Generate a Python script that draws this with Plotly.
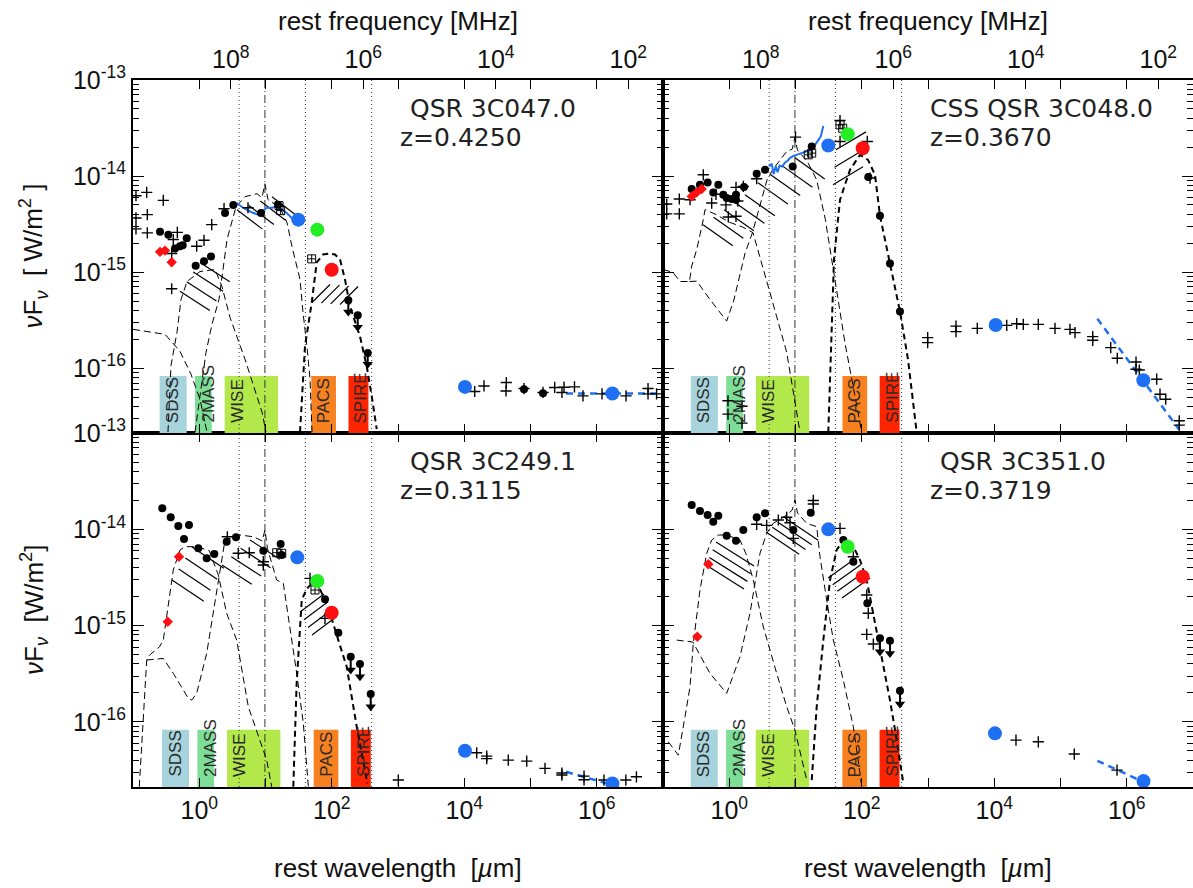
import numpy as np
import plotly.graph_objects as go

# ------------------------------------------------------------------
# Meta data
# ------------------------------------------------------------------
C_UM_MHZ = 2.99792458e8          # lambda[um] * nu[MHz]
LOG_X_RANGE = [-1.0, 7.0]        # rest wavelength [um], log10
LOG_Y_RANGE = [-16.675, -13.0]   # nuF_nu [W/m^2], log10

source_names = ["QSR 3C047.0", "CSS QSR 3C048.0", "QSR 3C249.1", "QSR 3C351.0"]
source_z = [0.4250, 0.3670, 0.3115, 0.3719]

band_names = ["SDSS", "2MASS", "WISE", "PACS", "SPIRE"]
band_obs_lo = [0.36, 1.23, 3.45, 70.0, 255.0]     # observed frame [um]
band_obs_hi = [0.92, 2.20, 22.0, 165.0, 510.0]
band_colors = ["#a6d3dc", "#7ddf97", "#b3e84b", "#f7801f", "#ff2400"]
band_top = 8.3e-17

dotted_lines_um = [4.0, 40.0, 400.0]
dashdot_line_um = 9.8

freq_tick_mhz = [1e8, 1e6, 1e4, 1e2]
freq_tick_text = ["10<sup>8</sup>", "10<sup>6</sup>", "10<sup>4</sup>", "10<sup>2</sup>"]

# ------------------------------------------------------------------
# Photometry, log10(lambda/um), log10(nuFnu / W m^-2)
# ------------------------------------------------------------------
# ---- 3C047.0 (top left)
tl_circles = [(-0.592, -14.581), (-0.467, -14.610), (-0.366, -14.755), (-0.291, -14.731),
              (-0.250, -14.721), (-0.189, -14.648), (-0.054, -14.935), (0.072, -14.887),
              (0.177, -14.838), (0.389, -14.384), (0.514, -14.301), (0.932, -14.384),
              (1.189, -14.298), (4.902, -16.220), (5.189, -16.260)]
tl_ulim = [(2.250, -15.292, -15.416), (2.392, -15.448, -15.575), (2.543, -15.842, -15.959)]
tl_cross = [(-0.955, -14.205), (-0.793, -14.170), (-0.543, -14.253), (-0.784, -14.402),
            (-0.955, -14.436), (-0.955, -14.550), (-0.784, -14.592), (-0.331, -14.586),
            (-0.392, -14.661), (0.072, -14.669), (-0.039, -14.731), (0.188, -14.506),
            (-0.416, -14.807), (-0.416, -15.173), (0.374, -14.340), (0.736, -14.330),
            (4.158, -16.243), (4.298, -16.185), (4.635, -16.150), (4.630, -16.237),
            (4.902, -16.212), (5.189, -16.253), (5.365, -16.201), (5.475, -16.253),
            (5.506, -16.198), (5.664, -16.195), (5.792, -16.289), (6.079, -16.268),
            (6.442, -16.289), (6.774, -16.212), (6.774, -16.268), (6.903, -16.268)]
tl_boxed = [(1.204, -14.308), (1.229, -14.360), (1.697, -14.862)]
tl_diamonds = [(-0.592, -14.789), (-0.517, -14.776), (-0.416, -14.897)]
tl_blue = [(1.495, -14.454), (4.011, -16.195), (6.236, -16.264)]
tl_green = [(1.782, -14.558)]
tl_red = [(1.999, -14.976)]
tl_irs = [(0.565, -14.280), (0.640, -14.320), (0.716, -14.350), (0.800, -14.380),
          (0.891, -14.402), (0.950, -14.370), (1.018, -14.329), (1.100, -14.330),
          (1.169, -14.316), (1.250, -14.350), (1.320, -14.384), (1.420, -14.454)]
tl_radio_fit = [(5.536, -16.265), (6.955, -16.265)]
tl_model_thin = [
    [(-1.0, -15.596), (-0.517, -15.648), (-0.291, -15.824), (-0.125, -16.063), (0.011, -16.323), (0.117, -16.666)],
    [(-0.472, -16.666), (-0.426, -15.970), (-0.336, -15.627), (-0.275, -15.285), (-0.185, -15.098),
     (0.011, -14.994), (0.238, -14.973), (0.343, -15.150), (0.464, -15.471), (0.691, -15.908),
     (0.947, -16.458), (1.008, -16.666)],
    [(-0.064, -16.666), (0.011, -16.271), (0.102, -15.835), (0.192, -15.544), (0.298, -15.285),
     (0.419, -14.661), (0.555, -14.319), (0.691, -14.215), (0.872, -14.184), (0.947, -14.225),
     (0.992, -14.080), (1.038, -14.246), (1.219, -14.329), (1.325, -14.485), (1.400, -14.734),
     (1.521, -15.077), (1.566, -15.420), (1.626, -15.773), (1.672, -16.115), (1.702, -16.666)],
]
tl_model_cold = [(1.521, -16.666), (1.596, -15.773), (1.698, -15.316), (1.773, -14.900), (1.868, -14.817),
                 (1.974, -14.807), (2.049, -14.817), (2.125, -14.869), (2.200, -15.077), (2.275, -15.357),
                 (2.426, -15.669), (2.528, -15.980), (2.603, -16.292), (2.679, -16.635)]
tl_hatch = [((-0.291, -15.200), (0.011, -14.900), (0.450, -0.200), 4),
            ((0.570, -14.350), (1.098, -14.215), (0.380, -0.200), 4),
            ((1.702, -15.316), (2.125, -15.337), (0.272, 0.187), 4)]

# ---- 3C048.0 (top right)
tr_circles = [(-0.567, -14.135), (-0.442, -14.090), (-0.326, -14.066), (-0.241, -14.170),
              (-0.165, -14.090), (-0.090, -14.194), (-0.039, -14.229), (0.037, -14.239),
              (0.102, -14.246), (0.102, -14.194), (0.223, -14.114), (0.414, -13.976),
              (0.540, -13.935), (0.958, -13.900), (1.245, -13.692), (2.099, -14.010),
              (2.275, -14.412), (2.426, -14.911), (2.577, -15.409)]
tr_ulim = []
tr_cross = [(-0.944, -14.291), (-0.754, -14.239), (-0.754, -14.394), (-0.944, -14.394),
            (-0.592, -14.246), (-0.392, -13.987), (-0.265, -14.281), (-0.200, -14.190),
            (-0.050, -14.300), (-0.014, -14.426), (0.102, -14.419), (0.102, -14.118),
            (0.130, -14.260), (0.213, -14.108), (0.414, -14.028), (1.000, -13.595),
            (1.672, -13.422), (1.672, -13.640), (2.084, -13.640), (2.125, -14.021),
            (-0.019, -16.340), (-0.019, -16.479), (0.192, -16.396), (0.192, -16.572),
            (2.995, -15.682), (2.995, -15.734), (3.423, -15.562), (3.423, -15.620),
            (3.744, -15.586), (4.188, -15.555), (4.339, -15.537), (4.438, -15.544),
            (4.665, -15.544), (4.917, -15.586), (5.143, -15.596), (5.219, -15.630),
            (5.486, -15.672), (5.486, -15.710), (5.758, -15.786), (5.857, -15.897),
            (6.140, -15.936), (6.140, -16.011), (6.189, -16.019), (6.452, -16.115),
            (6.502, -16.271), (6.588, -16.323), (6.793, -16.548), (6.793, -16.593)]
tr_boxed = [(1.245, -13.761), (1.193, -13.779), (1.672, -13.467), (1.712, -13.502)]
tr_diamonds = [(-0.567, -14.212), (-0.492, -14.170), (-0.416, -14.135)]
tr_blue = [(1.495, -13.682), (4.022, -15.551), (6.250, -16.126)]
tr_green = [(1.788, -13.564)]
tr_red = [(2.014, -13.710)]
tr_irs = [(0.600, -13.900), (0.640, -13.870), (0.670, -13.980), (0.700, -13.900), (0.730, -13.960),
          (0.760, -13.890), (0.800, -13.900), (0.840, -13.860), (0.880, -13.840), (0.920, -13.810),
          (0.970, -13.790), (1.020, -13.780), (1.100, -13.760), (1.180, -13.740), (1.260, -13.710),
          (1.330, -13.640), (1.380, -13.590), (1.420, -13.480)]
tr_radio_fit = [(5.556, -15.485), (6.793, -16.641)]
tr_model_thin = [
    [(-0.995, -14.973), (-0.849, -15.004), (-0.743, -15.098), (-0.600, -15.098), (-0.567, -14.938),
     (-0.491, -14.765), (-0.392, -14.454), (-0.366, -14.350), (-0.200, -14.400), (0.000, -14.480),
     (0.200, -14.530), (0.358, -14.589), (0.615, -15.215), (0.867, -15.835), (1.068, -16.666)],
    [(-0.600, -15.098), (-0.491, -15.094), (-0.291, -15.285), (-0.039, -15.510), (0.070, -15.290),
     (0.240, -14.800), (0.350, -14.590), (0.460, -14.310), (0.570, -14.040), (0.660, -13.930),
     (0.867, -13.744), (0.950, -13.720), (0.990, -13.600), (1.030, -13.730), (1.180, -13.850),
     (1.320, -14.040), (1.450, -14.450), (1.600, -15.100), (1.750, -15.750), (1.900, -16.300),
     (2.000, -16.670)],
]
tr_model_cold = [(1.495, -16.669), (1.536, -15.804), (1.581, -14.869), (1.672, -14.246), (1.823, -13.935),
                 (1.974, -13.779), (2.094, -13.831), (2.200, -13.987), (2.275, -14.412), (2.426, -14.911),
                 (2.577, -15.409), (2.698, -15.908), (2.829, -16.669)]
tr_hatch = [((-0.396, -14.506), (0.238, -14.194), (0.450, -0.220), 5),
            ((0.434, -14.070), (0.992, -13.810), (0.450, -0.220), 4),
            ((1.566, -14.090), (1.611, -13.727), (0.453, 0.187), 3)]

# ---- 3C249.1 (bottom left)
bl_circles = [(-0.558, -13.782), (-0.431, -13.875), (-0.316, -13.966), (-0.155, -13.955),
              (-0.230, -14.101), (-0.014, -14.197), (0.112, -14.301), (0.227, -14.256),
              (0.414, -14.128), (0.555, -14.083), (0.967, -14.222), (1.229, -14.153),
              (1.245, -14.267), (1.898, -14.727), (2.099, -15.074)]
bl_ulim = [(2.286, -15.323, -15.461), (2.426, -15.399, -15.531), (2.588, -15.710, -15.842)]
bl_cross = [(0.424, -14.077), (0.589, -14.249), (0.755, -14.243), (0.967, -14.336), (0.967, -14.371),
            (1.672, -14.509), (1.898, -14.924), (3.005, -16.603), (4.188, -16.320), (4.339, -16.354),
            (4.339, -16.380), (4.665, -16.396), (4.943, -16.406), (5.219, -16.482), (5.474, -16.551),
            (5.474, -16.530), (5.808, -16.562), (5.808, -16.600), (6.109, -16.603), (6.439, -16.603),
            (6.599, -16.569)]
bl_boxed = [(1.169, -14.243), (1.245, -14.249), (1.747, -14.630)]
bl_diamonds = [(-0.306, -14.285), (-0.476, -14.959)]
bl_blue = [(1.480, -14.291), (4.011, -16.299), (6.236, -16.638)]
bl_green = [(1.782, -14.536)]
bl_red = [(1.999, -14.866)]
bl_irs = []
bl_radio_fit = [(5.536, -16.517), (6.331, -16.673)]
bl_model_thin = [
    [(-0.905, -16.673), (-0.850, -16.000), (-0.793, -15.357), (-0.740, -15.300), (-0.600, -15.220),
     (-0.543, -15.150), (-0.392, -14.423), (-0.291, -14.215), (-0.215, -14.180), (-0.039, -14.181),
     (0.150, -14.220), (0.288, -14.475), (0.414, -14.872), (0.565, -15.150), (0.741, -15.842),
     (1.018, -16.396), (1.094, -16.673)],
    [(-0.793, -15.357), (-0.543, -15.340), (-0.392, -15.495), (-0.165, -15.755), (-0.114, -15.773),
     (-0.039, -15.703), (0.112, -15.288), (0.238, -14.734), (0.338, -14.319), (0.389, -14.111),
     (0.615, -14.059), (0.816, -14.077), (0.950, -14.120), (0.992, -14.007), (1.030, -14.200),
     (1.169, -14.526), (1.269, -14.561), (1.370, -15.011), (1.471, -15.495), (1.571, -16.014),
     (1.647, -16.673)],
]
bl_model_cold = [(1.420, -16.673), (1.470, -15.600), (1.547, -14.734), (1.620, -14.620), (1.698, -14.560),
                 (1.772, -14.544), (1.873, -14.700), (1.974, -14.872), (2.099, -15.150), (2.226, -15.427),
                 (2.377, -16.050), (2.477, -16.396), (2.538, -16.638)]
bl_hatch = [((-0.411, -14.526), (-0.109, -14.184), (0.480, -0.220), 4),
            ((0.343, -14.371), (0.766, -14.111), (0.450, -0.200), 4),
            ((1.521, -14.859), (1.702, -15.098), (0.362, 0.187), 4)]

# ---- 3C351.0 (bottom right)
br_circles = [(-0.567, -13.748), (-0.442, -13.810), (-0.326, -13.852), (-0.241, -13.921),
              (-0.165, -13.859), (-0.039, -14.066), (0.102, -14.118), (0.212, -14.007),
              (0.414, -13.875), (0.540, -13.834), (0.967, -14.007), (1.230, -13.828),
              (1.722, -14.111), (1.873, -14.336), (2.084, -14.768)]
br_ulim = [(2.275, -15.132, -15.271), (2.426, -15.157, -15.288), (2.577, -15.676, -15.814)]
br_cross = [(0.414, -13.948), (0.565, -13.959), (0.741, -13.903), (0.867, -13.875), (0.917, -13.931),
            (0.967, -14.094), (1.269, -13.737), (1.269, -13.700), (1.672, -13.990), (1.873, -14.285),
            (2.075, -14.682), (2.099, -14.872), (2.075, -15.091), (2.175, -15.191), (4.328, -16.188),
            (4.665, -16.206), (5.208, -16.333), (5.853, -16.500)]
br_boxed = []
br_diamonds = [(-0.316, -14.363), (-0.482, -15.115)]
br_blue = [(1.495, -14.000), (4.011, -16.118), (6.253, -16.614)]
br_green = [(1.788, -14.181)]
br_red = [(2.014, -14.492)]
br_irs = []
br_radio_fit = [(5.557, -16.403), (6.355, -16.655)]
br_model_thin = [
    [(-0.920, -16.206), (-0.769, -16.344), (-0.668, -15.946), (-0.592, -15.634), (-0.543, -15.184),
     (-0.442, -14.630), (-0.340, -14.249), (-0.265, -14.111), (-0.165, -14.059), (-0.039, -14.059),
     (0.162, -14.111), (0.250, -14.250), (0.363, -14.527), (0.514, -15.011), (0.716, -15.495),
     (0.867, -15.842), (0.992, -16.084), (1.169, -16.603)],
    [(-0.793, -15.150), (-0.550, -15.170), (-0.291, -15.495), (-0.039, -15.703), (0.162, -15.323),
     (0.313, -14.872), (0.464, -14.249), (0.565, -14.042), (0.665, -13.938), (0.867, -13.852),
     (0.950, -13.800), (0.992, -13.696), (1.030, -13.830), (1.169, -13.938), (1.320, -13.973),
     (1.370, -14.285), (1.471, -14.734), (1.571, -15.150), (1.722, -15.565), (1.873, -16.050),
     (1.974, -16.535), (2.000, -16.670)],
]
br_model_cold = [(1.245, -16.603), (1.320, -15.842), (1.420, -15.150), (1.521, -14.527), (1.621, -14.215),
                 (1.722, -14.111), (1.848, -14.145), (1.974, -14.319), (2.075, -14.527), (2.175, -14.872),
                 (2.275, -15.219), (2.426, -15.773), (2.528, -16.188), (2.628, -16.638)]
br_hatch = [((-0.351, -14.371), (-0.200, -14.132), (0.574, -0.249), 4),
            ((0.555, -14.028), (0.842, -13.883), (0.500, -0.230), 4),
            ((1.491, -14.506), (1.702, -14.713), (0.423, 0.208), 4)]

panels = [
    dict(circles=tl_circles, ulim=tl_ulim, cross=tl_cross, boxed=tl_boxed, diamonds=tl_diamonds,
         blue=tl_blue, green=tl_green, red=tl_red, irs=tl_irs, radio_fit=tl_radio_fit,
         thin=tl_model_thin, cold=tl_model_cold, hatch=tl_hatch),
    dict(circles=tr_circles, ulim=tr_ulim, cross=tr_cross, boxed=tr_boxed, diamonds=tr_diamonds,
         blue=tr_blue, green=tr_green, red=tr_red, irs=tr_irs, radio_fit=tr_radio_fit,
         thin=tr_model_thin, cold=tr_model_cold, hatch=tr_hatch),
    dict(circles=bl_circles, ulim=bl_ulim, cross=bl_cross, boxed=bl_boxed, diamonds=bl_diamonds,
         blue=bl_blue, green=bl_green, red=bl_red, irs=bl_irs, radio_fit=bl_radio_fit,
         thin=bl_model_thin, cold=bl_model_cold, hatch=bl_hatch),
    dict(circles=br_circles, ulim=br_ulim, cross=br_cross, boxed=br_boxed, diamonds=br_diamonds,
         blue=br_blue, green=br_green, red=br_red, irs=br_irs, radio_fit=br_radio_fit,
         thin=br_model_thin, cold=br_model_cold, hatch=br_hatch),
]

# ------------------------------------------------------------------
# Layout geometry
# ------------------------------------------------------------------
W, H = 1193, 888
XL = [133 / W, 663 / W]
XR = [663 / W, 1.0]
YT = [1 - 433 / H, 1 - 80 / H]
YB = [1 - 787 / H, 1 - 433 / H]
axis_pairs = [("x3", "y3"), ("x4", "y4"), ("x", "y"), ("x2", "y2")]
FONT = "Liberation Sans, Arial, Helvetica, sans-serif"
FONT_WIDE = "DejaVu Sans, Verdana, sans-serif"
BLUE = "#1f6ff2"

fig = go.Figure()


def xy(pts):
    return [10 ** p[0] for p in pts], [10 ** p[1] for p in pts]


ybot, ytop = 10 ** LOG_Y_RANGE[0], 10 ** LOG_Y_RANGE[1]

for i, (pan, (xa, ya)) in enumerate(zip(panels, axis_pairs)):
    z = source_z[i]
    common = dict(xaxis=xa, yaxis=ya, showlegend=False, hoverinfo="skip")
    # bands
    for bn, lo, hi, col in zip(band_names, band_obs_lo, band_obs_hi, band_colors):
        l0, l1 = lo / (1 + z), hi / (1 + z)
        fig.add_trace(go.Scatter(x=[l0, l1, l1, l0, l0], y=[ybot, ybot, band_top, band_top, ybot],
                                 mode="lines", fill="toself", fillcolor=col, line=dict(width=0),
                                 **common))
    # reference vertical lines
    for lv in dotted_lines_um:
        fig.add_trace(go.Scatter(x=[lv, lv], y=[ybot, ytop], mode="lines",
                                 line=dict(color="#333", width=1, dash="1px,3px"), **common))
    fig.add_trace(go.Scatter(x=[dashdot_line_um, dashdot_line_um], y=[ybot, ytop], mode="lines",
                             line=dict(color="#333", width=1, dash="8px,3px,1px,3px"), **common))
    # model curves
    for crv in pan["thin"]:
        cx, cy = xy(crv)
        fig.add_trace(go.Scatter(x=cx, y=cy, mode="lines",
                                 line=dict(color="black", width=1, dash="7px,4px"), **common))
    cx, cy = xy(pan["cold"])
    fig.add_trace(go.Scatter(x=cx, y=cy, mode="lines",
                             line=dict(color="black", width=2, dash="6px,4px"), **common))
    # hatches
    hx, hy = [], []
    for (p0, p1, v, n) in pan["hatch"]:
        for k in range(n):
            f = k / (n - 1)
            sx = p0[0] + f * (p1[0] - p0[0])
            sy = p0[1] + f * (p1[1] - p0[1])
            hx += [10 ** sx, 10 ** (sx + v[0]), None]
            hy += [10 ** sy, 10 ** (sy + v[1]), None]
    fig.add_trace(go.Scatter(x=hx, y=hy, mode="lines", line=dict(color="black", width=1.2),
                             connectgaps=False, **common))
    # IRS spectrum
    if pan["irs"]:
        cx, cy = xy(pan["irs"])
        fig.add_trace(go.Scatter(x=cx, y=cy, mode="lines", line=dict(color=BLUE, width=2), **common))
    # radio fit
    cx, cy = xy(pan["radio_fit"])
    fig.add_trace(go.Scatter(x=cx, y=cy, mode="lines",
                             line=dict(color=BLUE, width=2.5, dash="7px,5px"), **common))
    # upper limits
    for (lx, f0, f1) in pan["ulim"]:
        fig.add_trace(go.Scatter(x=[10 ** lx, 10 ** lx], y=[10 ** f0, 10 ** f1], mode="lines",
                                 line=dict(color="black", width=2), **common))
        fig.add_trace(go.Scatter(x=[10 ** lx], y=[10 ** f1], mode="markers",
                                 marker=dict(symbol="triangle-down", size=9, color="black"), **common))
    # crosses
    cx, cy = xy(pan["cross"])
    fig.add_trace(go.Scatter(x=cx, y=cy, mode="markers",
                             marker=dict(symbol="cross-thin", size=8, line=dict(color="black", width=1.4)),
                             **common))
    if pan["boxed"]:
        cx, cy = xy(pan["boxed"])
        fig.add_trace(go.Scatter(x=cx, y=cy, mode="markers",
                                 marker=dict(symbol="square-cross-open", size=8, color="black",
                                             line=dict(color="black", width=1)), **common))
    cx, cy = xy(pan["circles"] + [(u[0], u[1]) for u in pan["ulim"]])
    fig.add_trace(go.Scatter(x=cx, y=cy, mode="markers",
                             marker=dict(symbol="circle", size=8, color="black"), **common))
    cx, cy = xy(pan["diamonds"])
    fig.add_trace(go.Scatter(x=cx, y=cy, mode="markers",
                             marker=dict(symbol="diamond", size=8, color="#ff1010"), **common))
    for key, col in (("blue", BLUE), ("green", "#22ee22"), ("red", "#ff1010")):
        cx, cy = xy(pan[key])
        fig.add_trace(go.Scatter(x=cx, y=cy, mode="markers",
                                 marker=dict(symbol="circle", size=14, color=col), **common))

# invisible anchors so that the top frequency axes are drawn
for xa, ya in (("x5", "y3"), ("x6", "y4")):
    fig.add_trace(go.Scatter(x=[1.0], y=[1e-14], xaxis=xa, yaxis=ya, mode="markers",
                             marker=dict(size=1, opacity=0), showlegend=False, hoverinfo="skip"))

# ------------------------------------------------------------------
# Axes
# ------------------------------------------------------------------
x_tickvals = [10.0 ** e for e in range(0, 8, 2)]
x_ticktext = ["10<sup>%d</sup>" % e for e in range(0, 8, 2)]
x_minor = [10.0 ** e for e in range(-1, 8, 2)]
y_tickvals = [10.0 ** e for e in range(-16, -12)]
y_ticktext = ["10<sup>%d</sup>" % e for e in range(-16, -12)]
y_minor = [k * 10.0 ** e for e in range(-17, -13) for k in range(2, 10)]

tickfont = dict(family=FONT, size=25, color="#111")


def xaxis_cfg(domain, anchor, labels):
    return dict(type="log", range=LOG_X_RANGE, domain=domain, anchor=anchor,
                showline=True, linecolor="black", linewidth=2, mirror="ticks",
                ticks="inside", ticklen=9, tickwidth=1.2, tickcolor="black",
                tickmode="array", tickvals=x_tickvals, ticktext=x_ticktext,
                minor=dict(tickmode="array", tickvals=x_minor, ticks="inside", ticklen=9,
                           tickwidth=1.2, tickcolor="black"),
                showticklabels=labels, tickfont=tickfont, showgrid=False, zeroline=False,
                automargin=False)


def yaxis_cfg(domain, anchor, labels):
    return dict(type="log", range=LOG_Y_RANGE, domain=domain, anchor=anchor,
                showline=True, linecolor="black", linewidth=2, mirror="ticks",
                ticks="inside", ticklen=11, tickwidth=1.2, tickcolor="black",
                tickmode="array", tickvals=y_tickvals, ticktext=y_ticktext,
                minor=dict(tickmode="array", tickvals=y_minor, ticks="inside", ticklen=6,
                           tickwidth=1, tickcolor="black"),
                showticklabels=labels, tickfont=tickfont, showgrid=False, zeroline=False,
                automargin=False)


freq_tickvals = [C_UM_MHZ / f for f in freq_tick_mhz]


def topaxis_cfg(over, anchor):
    return dict(type="log", range=LOG_X_RANGE, overlaying=over, anchor=anchor, side="top",
                showline=False, ticks="inside", ticklen=9, tickwidth=1.2, tickcolor="black",
                tickmode="array", tickvals=freq_tickvals, ticktext=freq_tick_text,
                ticklabelstandoff=6, automargin=False,
                tickfont=tickfont, showgrid=False, zeroline=False)


fig.update_layout(
    width=W, height=H, margin=dict(l=0, r=0, t=0, b=0, pad=0, autoexpand=False),
    paper_bgcolor="white", plot_bgcolor="white",
    font=dict(family=FONT, color="#111"),
    xaxis=xaxis_cfg(XL, "y", True), yaxis=yaxis_cfg(YB, "x", True),
    xaxis2=xaxis_cfg(XR, "y2", True), yaxis2=yaxis_cfg(YB, "x2", False),
    xaxis3=xaxis_cfg(XL, "y3", False), yaxis3=yaxis_cfg(YT, "x3", True),
    xaxis4=xaxis_cfg(XR, "y4", False), yaxis4=yaxis_cfg(YT, "x4", False),
    xaxis5=topaxis_cfg("x3", "y3"), xaxis6=topaxis_cfg("x4", "y4"),
)

# ------------------------------------------------------------------
# Annotations
# ------------------------------------------------------------------
ann = []
for i, (xa, ya) in enumerate(axis_pairs):
    z = source_z[i]
    xref_d = xa + " domain"
    yref_d = ya + " domain"
    name = source_names[i]
    shift = 0 if name.startswith("CSS") else 10
    ann.append(dict(x=0.5, y=1, xref=xref_d, yref=yref_d, xanchor="left", yanchor="middle",
                    xshift=shift, yshift=-29, text=name, showarrow=False,
                    font=dict(family=FONT_WIDE, size=25, color="#222")))
    ann.append(dict(x=0.5, y=1, xref=xref_d, yref=yref_d, xanchor="left", yanchor="middle",
                    yshift=-58, text="z=%.4f" % z, showarrow=False,
                    font=dict(family=FONT_WIDE, size=25, color="#222")))
    for bn, lo in zip(band_names, band_obs_lo):
        ann.append(dict(x=np.log10(lo / (1 + z)), y=0, xref=xa, yref=yref_d, xanchor="left",
                        yanchor="bottom", xshift=1, yshift=8, textangle=-90, text=bn,
                        showarrow=False, font=dict(family=FONT, size=17, color="#2a2a2a")))

# axis titles
for xc in ((XL[0] + XL[1]) / 2, (XR[0] + XR[1]) / 2):
    ann.append(dict(x=xc, y=1 - 868 / H, xref="paper", yref="paper", showarrow=False,
                    xanchor="center", yanchor="middle",
                    text="rest wavelength  [<i>µ</i>m]", font=dict(family=FONT, size=26, color="#111")))
    ann.append(dict(x=xc, y=1 - 21 / H, xref="paper", yref="paper", showarrow=False,
                    xanchor="center", yanchor="middle",
                    text="rest frequency [MHz]", font=dict(family=FONT, size=26, color="#111")))
ann.append(dict(x=34 / W, y=(YT[0] + YT[1]) / 2, xref="paper", yref="paper", showarrow=False,
                xanchor="center", yanchor="middle",
                textangle=-90, text="<i>ν</i>F<sub><i>ν</i></sub>  [ W/m<sup>2</sup> ]",
                font=dict(family=FONT, size=26, color="#111")))
ann.append(dict(x=34 / W, y=(YB[0] + YB[1]) / 2, xref="paper", yref="paper", showarrow=False,
                xanchor="center", yanchor="middle",
                textangle=-90, text="<i>ν</i>F<sub><i>ν</i></sub>  [W/m<sup>2</sup>]",
                font=dict(family=FONT, size=26, color="#111")))
fig.update_layout(annotations=ann)

fig.write_html("out.html", post_script="document.body.style.margin='0px';")
